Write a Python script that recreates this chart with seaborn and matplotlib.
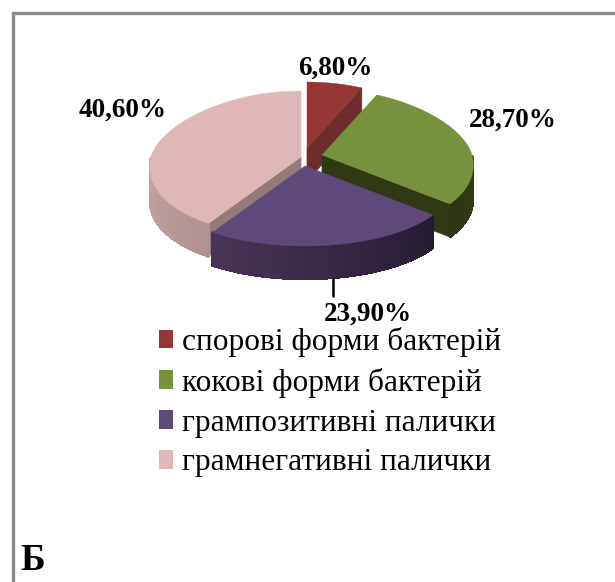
import numpy as np
import matplotlib.pyplot as plt
from matplotlib.patches import Patch
import seaborn as sns

labels = ['спорові форми бактерій', 'кокові форми бактерій', 'грампозитивні палички', 'грамнегативні палички']
values = [6.8, 28.7, 23.9, 40.6]
value_text = ['6,80%', '28,70%', '23,90%', '40,60%']
colors = ['#953735', '#76923c', '#5f497a', '#dfb7b6']
side_from = ['#6e2c2c', '#333f17', '#493557', '#c4a4a3']
side_to = ['#6e2c2c', '#2c3614', '#241a33', '#b09291']
cut_colors = ['#6e2c2c', '#2f3a14', '#261a38', '#957a7a']

# apex of each slice (exploded pie), label centres in pixels
apex_x = [307, 322, 305, 301]
apex_y = [148, 155, 166, 157]
label_x = [335, 513, 368, 123]
label_y = [68, 120, 314, 110]

rx, ry_back, ry_front, persp, depth = 150, 66, 80, 0.13, 33

sns.set_theme(style='white')
plt.rcParams['font.family'] = ['Liberation Serif', 'DejaVu Serif']

fig = plt.figure(figsize=(6.15, 5.82), dpi=100)
ax = fig.add_axes([0, 0, 1, 1])
ax.set_xlim(0, 615)
ax.set_ylim(582, 0)
ax.axis('off')


def rim(t):
    # t is clockwise from 12 o'clock, front of the pie is drawn a bit bigger
    c = np.cos(t)
    x = rx * np.sin(t) * (1 - persp * c)
    y = np.where(c > 0, -ry_back * c, -ry_front * c)
    return x, y


# outer frame
ax.plot([12.5, 12.5, 615], [582, 12.5, 12.5], color='#8c8c8c', lw=2.4, solid_joinstyle='miter')

edges = np.deg2rad(np.cumsum([0] + values) * 3.6)
# back slices first so the front ones cover them
for i in [0, 3, 1, 2]:
    t0, t1 = edges[i], edges[i + 1]
    ts = np.linspace(t0, t1, 150)
    x, y = rim(ts)
    x = x + apex_x[i]
    y = y + apex_y[i]

    # flat faces of the cut
    for t, show in [(t0, np.pi < t0 < 2 * np.pi), (t1, 0 < t1 < np.pi)]:
        if show:
            ex, ey = rim(t)
            ex, ey = ex + apex_x[i], ey + apex_y[i]
            ax.fill([apex_x[i], ex, ex, apex_x[i]],
                    [apex_y[i], ey, ey + depth, apex_y[i] + depth],
                    color=cut_colors[i], lw=0.5)

    # outer wall, shaded in thin strips
    front = np.cos(ts) < 0
    if front.any():
        xf, yf = x[front], y[front]
        shades = sns.blend_palette([side_from[i], side_to[i]], len(xf))
        if i == 1:
            shades = shades[::-1]
        for j in range(len(xf) - 1):
            # left part of the pie runs right-to-left along the angle
            k = j if xf[0] < xf[-1] else len(xf) - 2 - j
            ax.fill([xf[j], xf[j + 1], xf[j + 1], xf[j]],
                    [yf[j], yf[j + 1], yf[j + 1] + depth, yf[j] + depth],
                    color=shades[k], lw=1, antialiased=False)

    ax.fill(np.r_[apex_x[i], x], np.r_[apex_y[i], y], color=colors[i], lw=0.3)

# leader line for the 23,90% label
ax.plot([333, 333], [279, 296], color='black', lw=1.8)

for i in range(len(values)):
    ax.text(label_x[i], label_y[i], value_text[i], ha='center', va='center',
            fontsize=19.6, fontweight='bold', color='black')

handles = [Patch(facecolor=c, edgecolor='none') for c in colors]
ax.legend(handles, labels, loc='upper left', bbox_to_anchor=(159 / 615, 1 - 327 / 582),
          frameon=False, fontsize=22.6, handlelength=0.45, handleheight=0.54,
          handletextpad=0.29, labelspacing=0.345, borderpad=0, borderaxespad=0,
          labelcolor='black')

ax.text(20, 560, 'Б', ha='left', va='center', fontsize=27, fontweight='bold', color='black')

fig.savefig('out.png', dpi=100, facecolor='white')
